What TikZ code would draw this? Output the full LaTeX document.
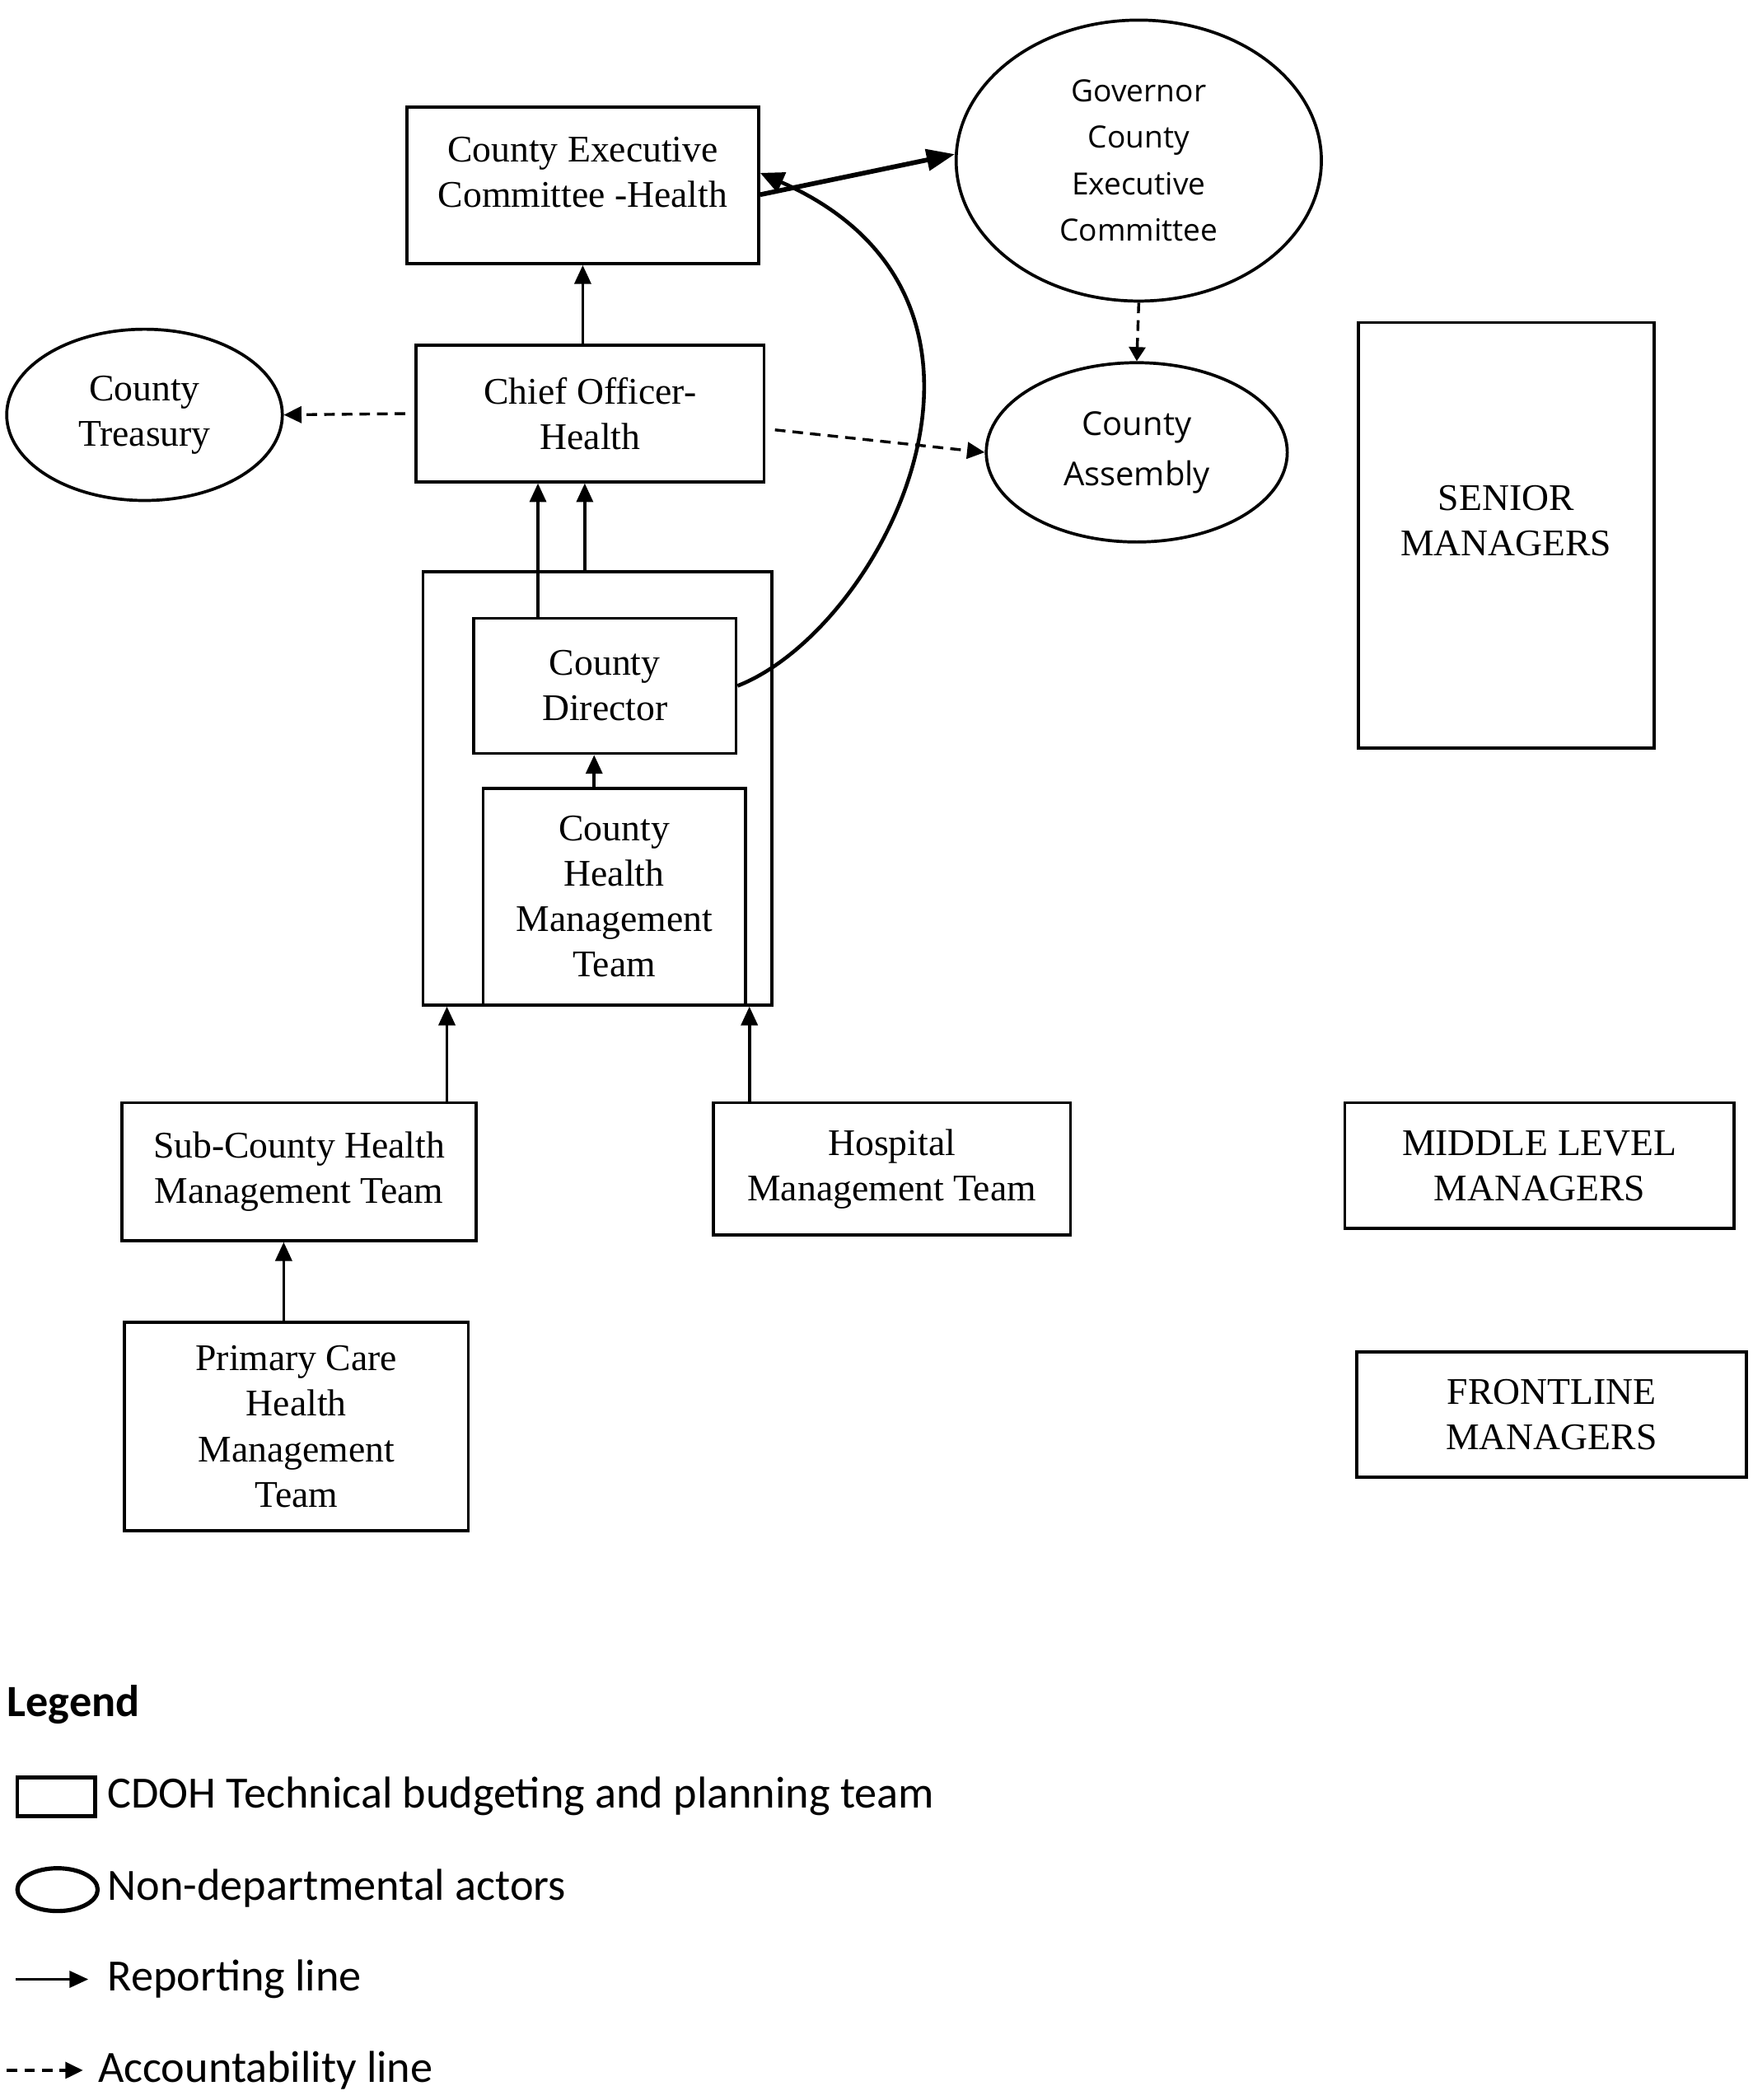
\documentclass[tikz,border=0pt]{standalone}
\usepackage{fontspec}
\setmainfont{Liberation Serif}
\newfontfamily\ovalfont{Open Sans}
\newfontfamily\legfont{Carlito}
\usetikzlibrary{arrows.meta}
\usetikzlibrary{shapes.geometric}
\newcommand*\boxfont{\fontsize{16}{19.3}\selectfont}
\newcommand*\legsize{\fontsize{19}{23}\selectfont}
\tikzset{
  team/.style={draw,line width=1.3pt,align=center,font=\boxfont,inner sep=0pt},
  actor/.style={ellipse,draw,line width=1.3pt,align=center,inner sep=0pt},
  report/.style={-{Triangle[length=8pt,width=7pt]},line width=1.3pt},
  account/.style={-{Triangle[length=7.5pt,width=7pt]},line width=1.2pt,dash pattern=on 4.5pt off 3pt},
  legtext/.style={font=\legfont\legsize,anchor=west,inner sep=0pt}
}

\begin{document}
\begin{tikzpicture}[x=0.02cm,y=-0.02cm]
\useasboundingbox (0,0) rectangle (1310,1569.2);
% top level
\node[team,minimum width=5.26cm,minimum height=2.34cm] (cec) at (435.5,138.5) {County Executive\\Committee -Health\\[-8pt]\mbox{}};
\node[actor,font=\ovalfont\fontsize{13}{19.8}\selectfont,minimum width=5.46cm,minimum height=4.2cm] (gov) at (851,120) {Governor\\County\\Executive\\Committee};
\node[team,minimum width=5.2cm,minimum height=2.04cm] (chief) at (441,309) {Chief Officer-\\Health};
\node[actor,font=\boxfont,minimum width=4.12cm,minimum height=2.56cm] (treas) at (108,310) {County\\Treasury};
\node[actor,font=\ovalfont\fontsize{14}{21.5}\selectfont,minimum width=4.5cm,minimum height=2.68cm] (assem) at (849.5,338) {County\\Assembly};
% county team
\node[team,minimum width=5.22cm,minimum height=6.48cm] (outer) at (446.5,589) {};
\node[team,minimum width=3.92cm,minimum height=2.02cm] (director) at (452,512.5) {County\\Director};
\node[team,minimum width=3.92cm,minimum height=3.24cm] (chmt) at (459,670) {County\\Health\\Management\\Team};
% lower levels
\node[team,minimum width=5.3cm,minimum height=2.06cm] (sub) at (223.5,875.5) {Sub-County Health\\Management Team};
\node[team,minimum width=5.34cm,minimum height=1.98cm] (hosp) at (666.5,873.5) {Hospital\\Management Team};
\node[team,minimum width=5.14cm,minimum height=3.12cm] (prim) at (221.5,1066) {Primary Care\\Health\\Management\\Team};
% levels
\node[team,minimum width=4.42cm,minimum height=6.36cm] (senior) at (1125.5,400) {SENIOR\\MANAGERS\\[-7pt]\mbox{}};
\node[team,minimum width=5.82cm,minimum height=1.88cm] (middle) at (1150.5,871) {MIDDLE LEVEL\\MANAGERS};
\node[team,minimum width=5.82cm,minimum height=1.88cm] (front) at (1159.5,1057) {FRONTLINE\\MANAGERS};
% reporting lines
\draw[report] (chief.north -| cec.south) -- (cec.south);
\draw[report,line width=2pt,-{Triangle[length=12pt,width=9pt]}] (cec.-3.7) -- (gov.178);
\draw[report,line width=1.6pt,-{Triangle[length=10pt,width=9pt]}] (director.east) .. controls (660,470) and (785,225) .. (cec.4);
\draw[report] ([xshift=-1cm]director.north) -- ([xshift=-1cm]director.north |- chief.south);
\draw[report] ([xshift=-0.19cm]outer.north) -- ([xshift=-0.19cm]outer.north |- chief.south);
\draw[report] ([xshift=-0.3cm]chmt.north) -- ([xshift=-0.3cm]chmt.north |- director.south);
\draw[report] ([xshift=2.21cm]sub.north) -- ([xshift=2.21cm]sub.north |- outer.south);
\draw[report] ([xshift=-2.13cm]hosp.north) -- ([xshift=-2.13cm]hosp.north |- outer.south);
\draw[report] ([xshift=-0.19cm]prim.north) -- ([xshift=-0.19cm]prim.north |- sub.south);
% accountability lines
\draw[account,shorten <=4pt] (chief.west) -- (treas.east);
\draw[account,shorten <=4pt] (chief.-5) -- (assem.west);
\draw[account,-{Triangle[length=6pt,width=7pt]}] (gov.south) -- (assem.north);
% legend
\node[legtext,font=\legfont\bfseries\legsize] (leg) at (5,1274) {Legend};
\node[draw,line width=1.6pt,minimum width=1.16cm,minimum height=0.58cm,inner sep=0pt] (legbox) at (42,1342.5) {};
\node[legtext] (legboxtxt) at (80,1342) {CDOH Technical budgeting and planning team};
\node[ellipse,draw,line width=1.8pt,minimum width=1.2cm,minimum height=0.64cm,inner sep=0pt] (legoval) at (43,1412) {};
\node[legtext] (legovaltxt) at (80,1411) {Non-departmental actors};
\coordinate (legrep) at (12,1479);
\node[legtext] (legreptxt) at (80,1479) {Reporting line};
\draw[report,shorten >=0.28cm] (legrep) -- (legreptxt.west);
\coordinate (legacc) at (5,1547);
\node[legtext] (legacctxt) at (73,1547) {Accountability line};
\draw[account,shorten >=0.22cm] (legacc) -- (legacctxt.west);
\end{tikzpicture}
\end{document}
